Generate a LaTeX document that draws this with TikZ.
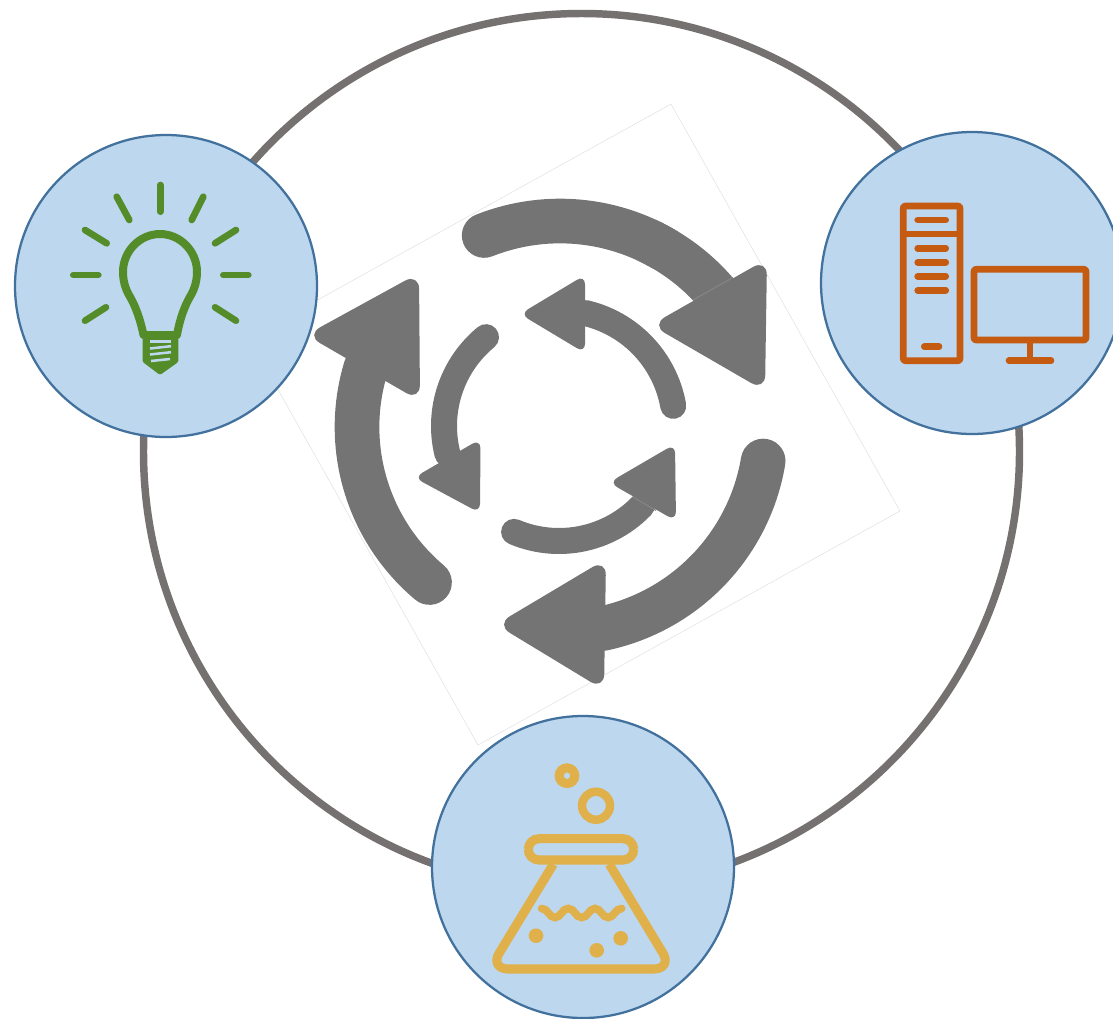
\documentclass[tikz,border=0pt]{standalone}
\definecolor{hubfill}{HTML}{BDD7EE}
\definecolor{hubline}{HTML}{41719C}
\definecolor{ringc}{HTML}{767171}
\definecolor{arrowc}{HTML}{747474}
\definecolor{seamc}{HTML}{858585}
\definecolor{bulbc}{HTML}{548C2A}
\definecolor{pcc}{HTML}{C55A11}
\definecolor{flaskc}{HTML}{E0B04A}
\tikzset{
  hub/.style={circle,draw=hubline,fill=hubfill,line width=1.7pt,minimum size=226.5pt,inner sep=0pt,outer sep=0pt},
  ring/.style={circle,draw=ringc,line width=5.6pt,minimum size=657pt,inner sep=0pt,outer sep=0pt},
  bigshaft/.style={draw=arrowc,line width=33.5pt,line cap=butt},
  bigtail/.style={fill=arrowc},
  smallshaft/.style={draw=arrowc,line width=19.5pt,line cap=round},
  bighead/.style={fill=arrowc,rounded corners=12pt},
  smallhead/.style={fill=arrowc,rounded corners=7pt},
  seam/.style={draw=seamc,line width=0.8pt},
  ray/.style={draw=bulbc,line width=5pt,line cap=round},
  bulbline/.style={draw=bulbc,line width=6pt,line join=round},
  pcline/.style={draw=pcc,line width=5pt,line join=round,rounded corners=1.5pt},
  pcbar/.style={draw=pcc,line width=5pt,line cap=round},
  flaskline/.style={draw=flaskc,line width=6.8pt},
  flaskdot/.style={fill=flaskc}
}
\begin{document}
\begin{tikzpicture}[x=0.75pt,y=-0.75pt]
\useasboundingbox (0,0) rectangle (1113,1018);
% outer ring
\node[ring] (ringnode) at (581.5,451.5) {};
% faint rotated frame
\draw[draw=black!13,line width=0.35pt] (671,104) -- (900,511) -- (478,745) -- (249,338) -- cycle;
% hub circles
\node[hub] (idea) at (166,286) {};
\node[hub] (computer) at (972,283) {};
\node[hub] (lab) at (583,867) {};
% big arrows
\draw[bigshaft,line cap=round] plot[domain=248.4:300,samples=30] ({560+206*cos(\x)},{427+206*sin(\x)});
\draw[bigshaft] plot[domain=295:320,samples=20] ({560+206*cos(\x)},{427+206*sin(\x)});
\fill[bighead] (767,259) -- (765,391) -- (651,325) -- cycle;
\draw[seam] (733,277.5) -- (693,300);
\draw[bigshaft,line cap=round] plot[domain=130:197,samples=40] ({560+203*cos(\x)},{427+203*sin(\x)});
\fill[bighead] (419,273) -- (420,401) -- (306,335) -- cycle;
\draw[bigshaft,line cap=round] plot[domain=9.5:78,samples=40] ({560+206*cos(\x)},{427+206*sin(\x)});
\fill[bighead] (606,559) -- (604,690) -- (496,624.5) -- cycle;
% small arrows
\draw[smallshaft] plot[domain=350:283,samples=30] ({559+116*cos(\x)},{426+116*sin(\x)});
\fill[smallhead] (585,275) -- (585,353) -- (520,314) -- cycle;
\draw[smallshaft] plot[domain=230.6:166,samples=30] ({559+115*cos(\x)},{426+115*sin(\x)});
\fill[smallhead] (480.5,439) -- (480,513) -- (414,477.5) -- cycle;
\draw[smallshaft] plot[domain=113:44,samples=30] ({559+115*cos(\x)},{426+115*sin(\x)});
\fill[smallhead] (675,444) -- (676,521) -- (609,482.5) -- cycle;
\draw[seam] (633,497) -- (656,510.5);
% bulb
\draw[ray] (160.3,185) -- (160.3,211.7);
\draw[ray] (116.7,196.7) -- (129.3,220);
\draw[ray] (203.3,196.7) -- (191.7,220);
\draw[ray] (85,230) -- (106.7,243.3);
\draw[ray] (236,230) -- (215,243.3);
\draw[ray] (73.3,275) -- (98.3,275);
\draw[ray] (223.3,275) -- (248.3,275);
\draw[ray] (106,307.3) -- (85,320.7);
\draw[ray] (215,307.3) -- (236,320.7);
\draw[bulbline] (143.5,335) .. controls (140,318) and (135,305) .. (129,295) .. controls (125,288) and (123,280) .. (123,272) .. controls (123,251) and (140,234) .. (160,234) .. controls (180,234) and (197,251) .. (197,272) .. controls (197,280) and (195,288) .. (191,295) .. controls (185,305) and (180,318) .. (177,335) -- cycle;
\fill[bulbc,rounded corners=1pt] (142.7,336) -- (178.3,336) -- (178.3,362) -- (160,375) -- (142.7,362) -- cycle;
\draw[hubfill,line width=1.9pt] (150,341.5) -- (171,341.5);
\draw[hubfill,line width=1.9pt] (150,348.5) -- (171,346.2);
\draw[hubfill,line width=1.9pt] (150,354.5) -- (171,352.2);
\draw[hubfill,line width=1.9pt] (151,361) -- (170,359);
% computer
\draw[pcline] (903.3,206) rectangle (960,360.7);
\draw[draw=pcc,line width=5pt] (903.3,234) -- (960,234);
\draw[pcbar] (917.7,220) -- (945.7,220);
\draw[pcbar] (917.7,248.3) -- (945.7,248.3);
\draw[pcbar] (917.7,262.3) -- (945.7,262.3);
\draw[pcbar] (917.7,276.3) -- (945.7,276.3);
\draw[pcbar] (917.7,290.3) -- (945.7,290.3);
\draw[pcbar] (924.3,346.7) -- (939,346.7);
\draw[pcline] (974,269.3) rectangle (1086,340);
\draw[draw=pcc,line width=5pt] (1030,340) -- (1030,360.7);
\draw[pcbar] (1009,360.7) -- (1051,360.7);
% flask
\draw[draw=flaskc,line width=6.8pt] (567,775.7) circle[radius=7.8];
\draw[draw=flaskc,line width=6.3pt] (596,805.7) circle[radius=14];
\draw[flaskline,rounded corners=8pt] (528.3,838.7) rectangle (633.7,860);
\draw[flaskline,rounded corners=14pt,line join=round] (553.3,864.3) -- (489.5,969) -- (672.5,969) -- (609.3,864.3);
\draw[draw=flaskc,line width=5.8pt,line cap=round] (541.7,908.5) .. controls (548,908.5) and (549,917.5) .. (555,917.5) .. controls (561,917.5) and (562,908.5) .. (568.3,908.5) .. controls (575,908.5) and (575,917.5) .. (581.7,917.5) .. controls (588,917.5) and (589,908.5) .. (595,908.5) .. controls (601,908.5) and (602,917.5) .. (608.3,917.5) .. controls (614,917.5) and (615,908.5) .. (621.7,908.5);
\fill[flaskdot] (536,935.7) circle[radius=7.3];
\fill[flaskdot] (596.7,950.3) circle[radius=7.3];
\fill[flaskdot] (620.7,938.3) circle[radius=7.3];
\end{tikzpicture}
\end{document}
